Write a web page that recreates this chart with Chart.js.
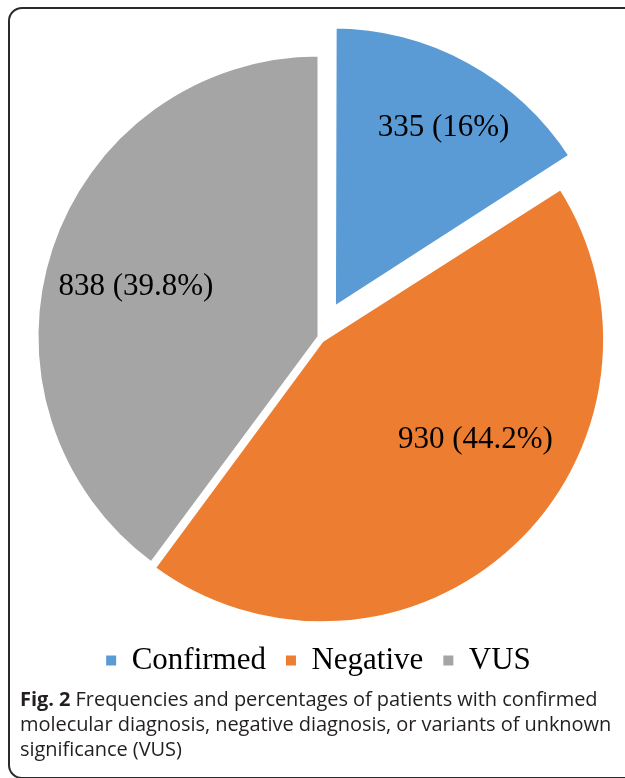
<!DOCTYPE html>
<html>
<head>
<meta charset="utf-8">
<script src="https://cdn.jsdelivr.net/npm/chart.js@4/dist/chart.umd.min.js"></script>
<style>
  html, body { margin: 0; padding: 0; background: #fff; }
  body { width: 625px; height: 778px; position: relative; overflow: hidden; }
  #frame { position: absolute; left: 8px; top: 7px; width: 660px; height: 772px;
           border: 2px solid #2a2a2a; border-radius: 14px; box-sizing: border-box; }
  #wrap { position: absolute; left: 0; top: 0; width: 625px; height: 686px; }
  #caption { position: absolute; left: 20px; top: 686px; width: 600px;
             font-family: 'Open Sans', sans-serif; font-size: 20px; line-height: 25px;
             color: #231f20; letter-spacing: -0.05px; }
  #caption b { font-weight: 700; }
</style>
</head>
<body>
<div id="frame"></div>
<div id="wrap"><canvas id="c"></canvas></div>
<div id="caption"><b>Fig. 2</b> Frequencies and percentages of patients with confirmed molecular diagnosis, negative diagnosis, or variants of unknown significance (VUS)</div>
<script>
const categories = ['Confirmed', 'Negative', 'VUS'];
const counts = [335, 930, 838];
const percentLabels = ['16%', '44.2%', '39.8%'];
const sliceColors = ['#5B9BD5', '#ED7D31', '#A5A5A5'];

const serif = "'Liberation Serif', 'Times New Roman', serif";

const sliceLabelPlugin = {
  id: 'sliceLabels',
  afterDatasetsDraw(chart, args, opts) {
    const meta = chart.getDatasetMeta(0);
    const ctx = chart.ctx;
    ctx.save();
    ctx.font = opts.fontSize + 'px ' + serif;
    ctx.fillStyle = '#000';
    ctx.textAlign = 'center';
    ctx.textBaseline = 'middle';
    meta.data.forEach((arc, i) => {
      const p = arc.getProps(['x', 'y', 'startAngle', 'endAngle', 'outerRadius'], true);
      const off = (arc.options.offset || 0) / 4;
      const mid = (p.startAngle + p.endAngle) / 2;
      const a = mid + opts.angleShift[i] * Math.PI / 180;
      const r = p.outerRadius * opts.radial[i];
      const cx = p.x + Math.cos(mid) * off;
      const cy = p.y + Math.sin(mid) * off;
      ctx.fillText(counts[i] + ' (' + percentLabels[i] + ')', cx + Math.cos(a) * r, cy + Math.sin(a) * r);
    });
    ctx.restore();
  }
};

new Chart(document.getElementById('c'), {
  type: 'pie',
  data: {
    labels: categories,
    datasets: [{
      data: counts,
      backgroundColor: sliceColors,
      borderColor: '#ffffff',
      borderWidth: [6.8, 5, 2],
      offset: [117, 18.4, 0],
      hoverOffset: 0
    }]
  },
  options: {
    responsive: true,
    maintainAspectRatio: false,
    animation: false,
    radius: 281,
    layout: { padding: { top: 48, left: 12, right: 0, bottom: 0 } },
    plugins: {
      tooltip: { enabled: false },
      legend: {
        position: 'bottom',
        labels: {
          font: { family: serif, size: 31 },
          color: '#000',
          boxWidth: 10,
          boxHeight: 10,
          padding: 20,
          generateLabels(chart) {
            const items = Chart.overrides.pie.plugins.legend.labels.generateLabels(chart);
            return items.map(it => Object.assign(it, { lineWidth: 0, strokeStyle: it.fillStyle }));
          }
        }
      },
      sliceLabels: {
        fontSize: 31,
        angleShift: [2.5, -13.9, -3.2],
        radial: [0.763, 0.653, 0.673]
      }
    }
  },
  plugins: [sliceLabelPlugin]
});
</script>
</body>
</html>
